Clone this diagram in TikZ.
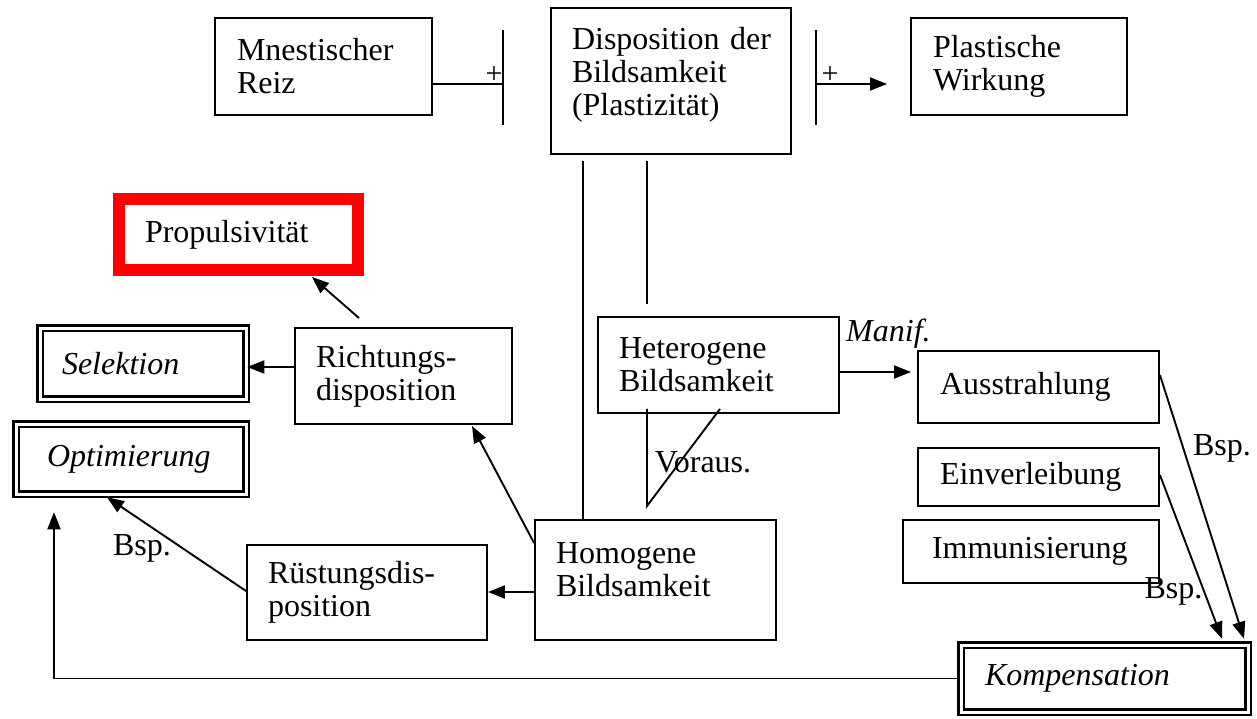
\documentclass[tikz,border=0pt]{standalone}
\usepackage{fontspec}
\setmainfont{Liberation Serif}
\usetikzlibrary{calc,arrows.meta}
\hyphenpenalty=10000

\begin{document}
\begin{tikzpicture}[x=1pt, y=-1pt, line width=1.9pt,
	every node/.style={font=\fontsize{32}{33}\selectfont},
	box/.style={draw, inner xsep=0pt, inner ysep=0pt, align=left},
	dbox/.style={box, double, line width=2.5pt, double distance=3pt},
	redbox/.style={box, draw=red, line width=12pt},
	arr/.style={-{Triangle[length=17pt,width=13pt]}},
	plus/.style={font=\fontsize{30}{30}\selectfont}]
		%%%%% START %%%%%
		\useasboundingbox (0,0) rectangle (1257,718);
		
		\node[box, minimum width=217, minimum height=97, text width=173] (reiz) at (323.5,66.5) {Mnestischer\\Reiz};
		\node[box, minimum width=240, minimum height=146, text width=198, text depth=85pt] (disp) at (671,81) {Disposition~der\\Bildsamkeit\\(Plastizität)};
		\node[box, minimum width=216, minimum height=97, text width=172] (plast) at (1019,66.5) {Plastische\\Wirkung};
		
		\coordinate (bar1) at (503,84);
		\coordinate (bar2) at (816,84);
		\draw ($(bar1)+(0,-54)$) -- ($(bar1)+(0,41)$);
		\draw ($(bar2)+(0,-54)$) -- ($(bar2)+(0,41)$);
		\draw (bar1 -| reiz.east) -- (bar1);
		\draw[arr] (bar2) -- ($(bar2 -| plast.west)+(-23,0)$);
		\node[plus] (plus1) at (494,75) {+};
		\node[plus] (plus2) at (830,75) {+};
		
		\node[redbox, minimum width=239, minimum height=71, text width=187] (prop) at (238.5,234.5) {Propulsivität};
		\node[dbox, minimum width=206, minimum height=71, text width=162] (sel) at (143,363.5) {\textit{Selektion}};
		\node[dbox, minimum width=230, minimum height=70, text width=168] (opt) at (131,459) {\textit{Optimierung}};
		\node[box, minimum width=217, minimum height=96, text width=175] (richt) at (403.5,376) {Richtungs-\\disposition};
		\node[box, minimum width=240, minimum height=95, text width=198] (rust) at (367,592.5) {Rüstungsdis-\\position};
		
		\node[box, minimum width=241, minimum height=96, text width=199] (het) at (718.5,365) {Heterogene\\Bildsamkeit};
		\node[box, minimum width=241, minimum height=120, text width=199, text depth=53pt] (homo) at (655.5,580) {Homogene\\Bildsamkeit};
		
		\node[box, minimum width=241, minimum height=72, text width=197] (aus) at (1038.5,387) {Ausstrahlung};
		\node[box, minimum width=241, minimum height=58, text width=197] (einv) at (1038.5,477) {Einverleibung};
		\node[box, minimum width=256, minimum height=63, text width=198] (immun) at (1031,551.5) {Immunisierung};
		\node[dbox, minimum width=287, minimum height=67, text width=239] (komp) at (1104.5,678.5) {\textit{Kompensation}};
		
		\draw ($(disp.south)+(-88,6)$) -- ($(homo.north)+(-72.5,0)$);
		\draw ($(disp.south)+(-24,6)$) -- ($(disp.south |- het.north)+(-24,-12)$);
		
		\draw[arr] ($(richt.north)+(-44.5,-9)$) -- ($(prop.south)+(73.5,1)$);
		\draw[arr] ($(richt.west)+(0,-9)$) -- ($(richt.west -| sel.east)+(0,-9)$);
		\draw[arr] ($(homo.west)+(0,-37)$) -- ($(richt.south)+(68.5,1)$);
		\draw[arr] ($(homo.west)+(0,12)$) -- ($(homo.west -| rust.east)+(0,12)$);
		\draw[arr] ($(rust.west)+(0,-1.5)$) -- ($(opt.south)+(-24,2)$);
		\node (bsp1) at (142,548.5) {Bsp.};
		\draw[arr] (komp.west) -| ($(opt.south)+(-77,17)$);
		
		\draw[arr] ($(het.east)+(0,7)$) -- ($(het.east -| aus.west)+(-6,7)$);
		\node (manif) at ($(het.east)+(48.5,-31)$) {\textit{Manif.}};
		\draw ($(het.south)+(-71.5,-5)$) -- ++(0,97) -- ($(het.south)+(1.5,-5)$);
		\node (voraus) at (703,462) {Voraus.};
		
		\draw[arr] ($(aus.east)+(0,-12)$) -- ($(komp.north)+(139.5,-5)$);
		\draw[arr] ($(einv.east)+(0,-2)$) -- ($(komp.north)+(117.5,-5)$);
		\node (bsp2) at (1222,448.5) {Bsp.};
		\node (bsp3) at (1173.5,591.5) {Bsp.};
		
		%%%%% END %%%%%
	\end{tikzpicture}
\end{document}
